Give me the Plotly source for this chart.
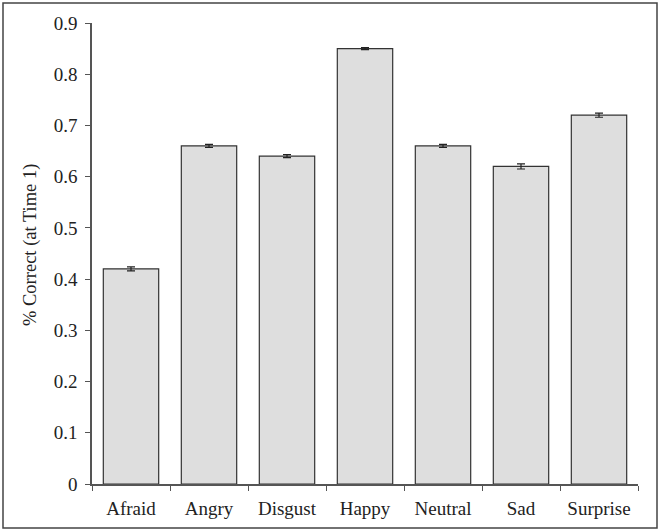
import plotly.graph_objects as go

# Data
emotions = ["Afraid", "Angry", "Disgust", "Happy", "Neutral", "Sad", "Surprise"]
pct_correct = [0.42, 0.66, 0.64, 0.85, 0.66, 0.62, 0.72]
std_err = [0.004, 0.003, 0.003, 0.002, 0.003, 0.005, 0.004]
y_ticks = [0, 0.1, 0.2, 0.3, 0.4, 0.5, 0.6, 0.7, 0.8, 0.9]
y_tick_labels = ["0", "0.1", "0.2", "0.3", "0.4", "0.5", "0.6", "0.7", "0.8", "0.9"]

W, H = 661, 532
ML, MR, MT, MB = 92, 23, 23, 48
pw, ph = W - ML - MR, H - MT - MB

serif = "Liberation Serif, Times New Roman, serif"
axis_font = dict(family=serif, size=19, color="#222222")

fig = go.Figure(go.Bar(
    x=emotions, y=pct_correct,
    marker=dict(color="#dedede", line=dict(color="#333333", width=1.2)),
    error_y=dict(type="data", array=std_err, color="#222222", thickness=1.2, width=4),
))

fig.update_xaxes(range=[-0.5, 6.5], showline=True, linecolor="#555555", linewidth=1.5,
                 ticks="outside", tickson="boundaries", ticklen=5, tickcolor="#555555",
                 tickfont=axis_font, ticklabelstandoff=6, showgrid=False, automargin=False)
fig.update_yaxes(range=[0, 0.9], tickvals=y_ticks, ticktext=y_tick_labels, showline=True,
                 linecolor="#555555", linewidth=1.5, ticks="outside", ticklen=5,
                 tickcolor="#555555", tickfont=axis_font, ticklabelstandoff=4,
                 showgrid=False, zeroline=False, automargin=False)

# y axis title
fig.add_annotation(text="% Correct (at Time 1)", textangle=-90, showarrow=False,
                   xref="paper", yref="paper", x=(30 - ML) / pw, y=(H - MB - 245) / ph,
                   xanchor="center", yanchor="middle",
                   font=dict(family=serif, size=18.5, color="#222222"))

# outer frame round the whole picture
fig.add_shape(type="rect", xref="paper", yref="paper",
              x0=(3 - ML) / pw, x1=(657 - ML) / pw,
              y0=-(528 - MT - ph) / ph, y1=1 + (MT - 3) / ph,
              line=dict(color="#444444", width=1.5))

fig.update_layout(width=W, height=H, margin=dict(l=ML, r=MR, t=MT, b=MB),
                  plot_bgcolor="white", paper_bgcolor="white", bargap=0.29,
                  showlegend=False)

# drop the page's default body margin so the figure sits at the window's corner
fig.write_html("out.html", config={"displayModeBar": False},
               post_script="document.body.style.margin='0';")
